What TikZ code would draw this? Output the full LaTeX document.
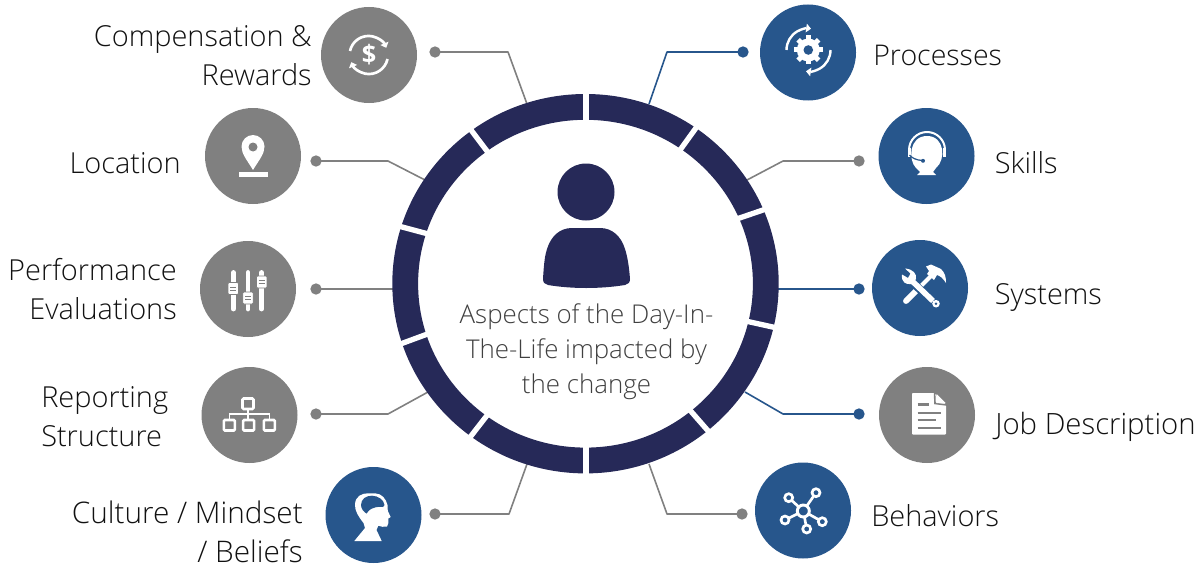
\documentclass[tikz,border=0pt]{standalone}
\usepackage{fontspec}
\setmainfont{Open Sans Light}
\newfontfamily\iconfont{Open Sans}
\usetikzlibrary{arrows.meta}
\definecolor{grayc}{HTML}{808080}
\definecolor{bluec}{HTML}{27568C}
\definecolor{navyc}{HTML}{262958}
\definecolor{labelc}{HTML}{111111}
\definecolor{centerc}{HTML}{404040}
\tikzset{
  bubble/.style={circle,inner sep=0pt,minimum size=72pt,fill=#1},
  conndot/.style={circle,inner sep=0pt,minimum size=8.5pt,fill=#1},
  conn/.style={draw=#1,line width=1.2pt,line join=round},
  lab/.style={inner sep=0pt,text=labelc,font=\fontsize{21.7}{29.25}\selectfont},
  labL/.style={lab,anchor=base east,align=right},
  labR/.style={lab,anchor=base west,align=left},
  ico/.style={draw=white,line width=#1,fill=none},
  ico/.default=2pt,
  tip/.style={-{Triangle[length=3.6pt,width=6.4pt]}},
  ringgap/.style={white,line width=4pt,shorten <=-6pt,shorten >=-6pt}
}
\begin{document}
\begin{tikzpicture}[x=0.75pt,y=-0.75pt]
\useasboundingbox (0,0) rectangle (1201,567);
% bubbles
\node[bubble=grayc] (bComp) at (369,55) {};
\node[bubble=grayc] (bLoc) at (253,156) {};
\node[bubble=grayc] (bPerf) at (248,289) {};
\node[bubble=grayc] (bRep) at (249.5,415) {};
\node[bubble=bluec] (bCult) at (373.5,515) {};
\node[bubble=bluec] (bProc) at (808,52.5) {};
\node[bubble=bluec] (bSkill) at (926.5,156) {};
\node[bubble=bluec] (bSys) at (920,288) {};
\node[bubble=grayc] (bJob) at (927,415) {};
\node[bubble=bluec] (bBeh) at (803,510.5) {};
% connector ends
\node[conndot=grayc] (dComp) at (435,52) {};
\node[conndot=grayc] (dLoc) at (316,161) {};
\node[conndot=grayc] (dPerf) at (316,289) {};
\node[conndot=grayc] (dRep) at (316,414) {};
\node[conndot=grayc] (dCult) at (435,514) {};
\node[conndot=bluec] (dProc) at (743,52) {};
\node[conndot=grayc] (dSkill) at (859,161) {};
\node[conndot=bluec] (dSys) at (859,289) {};
\node[conndot=bluec] (dJob) at (859,414) {};
\node[conndot=grayc] (dBeh) at (742,514) {};
\coordinate (kComp) at (508,52); \coordinate (eComp) at (527,104);
\coordinate (kLoc) at (388,161); \coordinate (eLoc) at (425,180);
\coordinate (ePerf) at (396,289);
\coordinate (kRep) at (388,414); \coordinate (eRep) at (428,392);
\coordinate (kCult) at (509,514); \coordinate (eCult) at (527,464);
\coordinate (kProc) at (667,52); \coordinate (eProc) at (649,104);
\coordinate (kSkill) at (783,161); \coordinate (eSkill) at (747,180);
\coordinate (eSys) at (776,289);
\coordinate (kJob) at (783,414); \coordinate (eJob) at (745,392);
\coordinate (kBeh) at (667,514); \coordinate (eBeh) at (649,464);
\draw[conn=grayc] (dComp.center) -- (kComp) -- (eComp);
\draw[conn=grayc] (dLoc.center) -- (kLoc) -- (eLoc);
\draw[conn=grayc] (dPerf.center) -- (ePerf);
\draw[conn=grayc] (dRep.center) -- (kRep) -- (eRep);
\draw[conn=grayc] (dCult.center) -- (kCult) -- (eCult);
\draw[conn=bluec] (dProc.center) -- (kProc) -- (eProc);
\draw[conn=grayc] (dSkill.center) -- (kSkill) -- (eSkill);
\draw[conn=bluec] (dSys.center) -- (eSys);
\draw[conn=bluec] (dJob.center) -- (kJob) -- (eJob);
\draw[conn=grayc] (dBeh.center) -- (kBeh) -- (eBeh);
% ring
\fill[navyc,even odd rule] (585.5,283.7) ellipse [x radius=193.2,y radius=189.7]
   (585.5,283.7) ellipse [x radius=167.4,y radius=163.9];
\foreach \ix/\iy/\ox/\oy in {586/120/586/94, 681.3/148.3/695.7/128.3, 738.7/218.3/763/210,
    748.7/321.7/774/327.3, 691.3/411.7/707.3/430, 586/447.7/586/473.3, 486/416.7/471/436,
    426.7/334.3/402.3/343.3, 425.7/233.3/401/226.7, 486.7/150.7/472.3/131.7}
  \draw[ringgap] (\ix,\iy) -- (\ox,\oy);
% person
\node[circle,fill=navyc,inner sep=0pt,minimum size=42.75pt] (head) at (586,192) {};
\fill[navyc] (543,279) .. controls (544,262) and (545,255) .. (547,249)
  .. controls (551,236) and (560,228) .. (572,228) -- (600,228)
  .. controls (612,228) and (621,236) .. (625,249)
  .. controls (627,255) and (629,265) .. (630,279)
  .. controls (630,283) and (628,284) .. (625,285)
  .. controls (600,289) and (572,289) .. (548,285)
  .. controls (545,284) and (543,283) .. (543,279) -- cycle;
% texts
\node[inner sep=0pt,text=centerc,align=center,font=\fontsize{19.4}{26.25}\selectfont,anchor=base] (tCenter) at (586.5,393.5) {Aspects of the Day-In-\\The-Life impacted by\\the change};
\node[labL] (tComp) at (312,85) {Compensation \&\\Rewards};
\node[labL] (tLoc) at (181,173) {Location};
\node[labL] (tPerf) at (177,319) {Performance\\Evaluations};
\node[lab,anchor=base west,align=left] (tRep) at (41,446.5) {Reporting\\Structure};
\node[labL,font=\fontsize{22.3}{29.25}\selectfont] (tCult) at (303,562) {Culture / Mindset\\/ Beliefs};
\node[labR,font=\fontsize{21.4}{29.25}\selectfont] (tProc) at (873,65) {Processes};
\node[labR] (tSkill) at (994.5,173) {Skills};
\node[labR] (tSys) at (994.5,304) {Systems};
\node[labR,font=\fontsize{22}{29.25}\selectfont] (tJob) at (995,434) {Job Description};
\node[labR] (tBeh) at (871,526) {Behaviors};
% icon: dollar
\draw[ico,tip] (350,51) arc[start angle=-168,end angle=-22,radius=19];
\draw[ico,tip] (387.5,59) arc[start angle=12,end angle=158,radius=19];
\node[inner sep=0pt,text=white,font=\iconfont\bfseries\fontsize{19}{19}\selectfont] (iDollar) at (369,55) {\$};
% icon: pin
\fill[white] (253,170) .. controls (247,160) and (241.5,154) .. (241.5,146.5)
  arc[start angle=-180,end angle=0,radius=11.5]
  .. controls (264.5,154) and (259,160) .. (253,170) -- cycle;
\fill[grayc] (253,147) circle (4.5);
\fill[white] (239,172) rectangle (268,177);
% icon: sliders
\foreach \x/\y in {233.3/288.5,248/298,261.7/282}{
  \draw[white,line width=3.6pt,line cap=round] (\x,272.5) -- (\x,309);
  \fill[white,draw=grayc,line width=0.5pt,rounded corners=0.8pt] (\x-5.2,\y-6) rectangle (\x+5.2,\y+6);
  \draw[grayc,line width=0.7pt] (\x-3,\y-1.5) -- (\x+3,\y-1.5) (\x-3,\y+1.5) -- (\x+3,\y+1.5);
}
% icon: org chart
\draw[ico=1.9pt,rounded corners=0.8pt] (242.5,398.5) rectangle (253.5,409);
\draw[white,line width=1.1pt] (248,409) -- (248,419) (229.5,419) -- (229.5,414) -- (269.5,414) -- (269.5,419);
\foreach \x in {229.3,248.7,269.3}
  \draw[ico=1.9pt,rounded corners=0.8pt] (\x-5.5,420) rectangle (\x+5.5,430.5);
% icon: head
\fill[white] (354.3,541) -- (365,528) -- (363.5,523) .. controls (358,516) and (355,511) .. (355,505)
  .. controls (355,496) and (362,493.3) .. (368,493.3) -- (375,493.3)
  .. controls (382,493.5) and (386,499) .. (387.5,505) -- (387.8,511) -- (390.7,517) -- (388.3,518.5)
  .. controls (388.5,522) and (389,524) .. (387,526.5) .. controls (384,527.5) and (381,526.5) .. (378.3,525.7)
  -- (376.5,530) -- (381.7,541) -- cycle;
\fill[bluec] (361,505) .. controls (361,499) and (366,495.7) .. (372,495.7)
  .. controls (378,495.7) and (384,500) .. (384.5,505) -- (383,507) .. controls (378,506) and (372,508) .. (369.5,510)
  .. controls (368,511) and (367.5,513) .. (366.5,513.5) .. controls (364,512) and (361,509) .. (361,505) -- cycle;
% icon: gear
\foreach \a in {0,45,...,315}
  \fill[white,rotate around={\a:(808.3,50)}] (805.8,35.5) rectangle (810.8,42);
\fill[white] (808.3,50) circle (11.5);
\fill[bluec] (808.3,50) circle (4.8);
\draw[ico=1.8pt,tip] (786.5,50) arc[start angle=-180,end angle=-82,radius=21.5];
\draw[ico=1.8pt,tip] (830.5,50) arc[start angle=0,end angle=98,radius=21.5];
% icon: headset
\draw[ico=1.5pt] (909,150) arc[start angle=-180,end angle=0,radius=18] ;
\fill[white] (908,148) rectangle (911,157);
\fill[white] (943,148) rectangle (946,157);
\fill[white] (916,168) .. controls (908,160) and (909,136) .. (927,136)
  .. controls (945,136) and (946,160) .. (936,168) -- (933,172) .. controls (934,174) and (935,174) .. (936,175)
  -- (917,175) .. controls (918,174) and (919,174) .. (920,172) -- cycle;
\draw[bluec,line width=0.9pt] (909.5,155) .. controls (912,158) and (916,160) .. (922,160.5);
\fill[bluec] (923,160.8) circle (2);
% icon: tools
\draw[white,line width=4.4pt,line cap=round] (906,301) -- (918,289);
\draw[white,line width=3pt] (920,287) -- (933,274);
\fill[white] (926,266.5) -- (931,264.5) -- (941,269) .. controls (945,273) and (946,277) .. (946,283)
  .. controls (943,278) and (940,276) .. (937,275) -- (934,280) -- (927,274) -- (929,271) -- cycle;
\draw[bluec,line width=6pt] (910,280) -- (932,301);
\draw[white,line width=4.2pt,line cap=butt] (910,279) -- (933,301);
\fill[white] (936,303.7) circle (3.8);
\fill[bluec] (936,303.7) circle (1.4);
\fill[white] (902,274.5) .. controls (901,282) and (906,285) .. (911,284)
 -- (916,279) .. controls (917,274) and (913,269) .. (905,268.5) -- (910.5,273.5) -- (908,278) -- cycle;
% icon: document
\fill[white,rounded corners=0.6pt] (912,393) -- (934,393) -- (946,404.5) -- (946,434.5) -- (912,434.5) -- cycle;
\draw[grayc,line width=1.2pt] (934.5,392) -- (935,403.5) -- (947,405);
\fill[white] (936.5,394) -- (945.5,403) -- (936.5,403) -- cycle;
\draw[grayc,line width=1.7pt] (917.5,404.5) -- (928.5,404.5) (917.5,412.7) -- (941,412.7) (917.5,420.3) -- (935.5,420.3) (917.5,428.3) -- (941,428.3);
% icon: network
\foreach \x/\y in {788.7/497.7,816/492.7,785/520,806.7/529,822.3/521.7}{
  \draw[white,line width=2pt] (803.3,511) -- (\x,\y);
  \draw[white,line width=2pt,fill=bluec] (\x,\y) circle (4);
}
\draw[white,line width=2.2pt,fill=bluec] (803.3,511) circle (6);
\end{tikzpicture}
\end{document}
